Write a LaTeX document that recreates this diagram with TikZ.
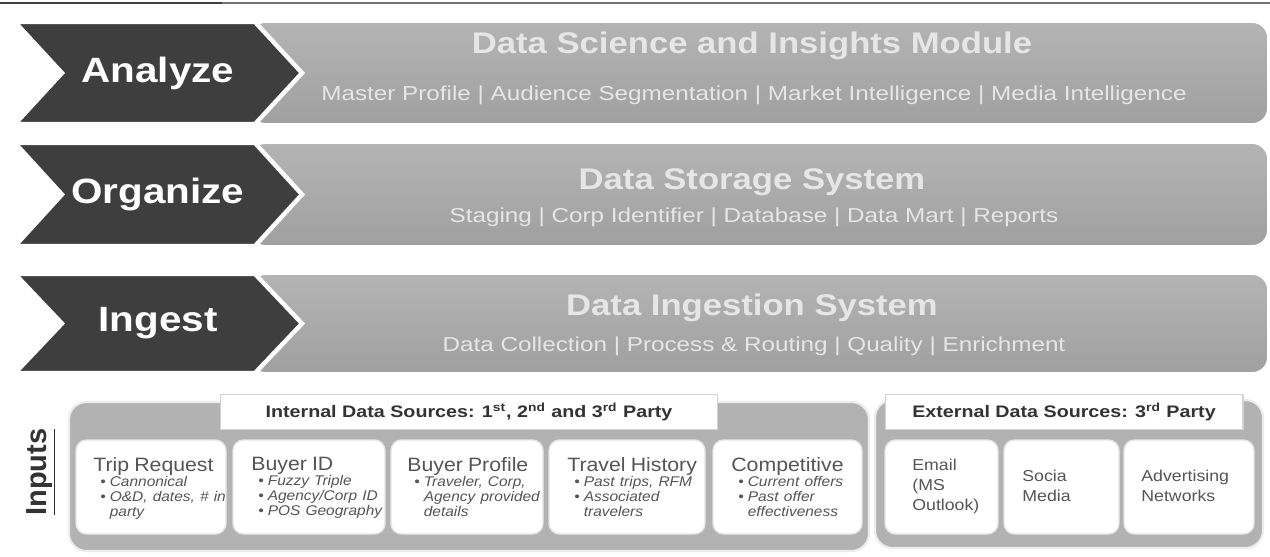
\documentclass[tikz,border=0pt]{standalone}
\usepackage{fontspec}
\setmainfont{Liberation Sans}
\definecolor{chevdark}{HTML}{3E3E3E}
\definecolor{bartop}{HTML}{B4B4B4}
\definecolor{barbot}{HTML}{A0A0A0}
\definecolor{grpfill}{HTML}{B2B2B2}
\definecolor{bartext}{HTML}{E6E6E6}
\definecolor{boxtext}{HTML}{555555}
% bullet line: the bullet, then the text as a hanging block
\newcommand{\bitem}[1]{\par\noindent\hspace*{3.6pt}\makebox[4.9pt][l]{•}%
  \parbox[t]{\dimexpr\linewidth-8.5pt\relax}{\raggedright\hyphenpenalty=10000 #1}}
\newcommand{\srctitlefont}{\upshape\fontsize{11}{12}\selectfont}
\begin{document}
\begin{tikzpicture}[x=0.02cm,y=-0.02cm,
  chevron/.style={fill=chevdark, draw=white, line width=2.5pt, line join=miter},
  bar/.style={top color=bartop, bottom color=barbot, draw=white, line width=1pt, rounded corners=9pt},
  stagetext/.style={text=white, xscale=1.15, font=\bfseries\fontsize{20}{24}\selectfont},
  bartitle/.style={text=bartext, xscale=1.16, font=\bfseries\fontsize{17}{19}\selectfont},
  barsub/.style={text=bartext, xscale=1.2, font=\fontsize{11.5}{13}\selectfont},
  group/.style={fill=grpfill, draw=white!85!gray, line width=1.2pt, rounded corners=10pt},
  grphead/.style={fill=white, draw=gray!35, line width=0.6pt, inner sep=0pt},
  headtext/.style={text=black!80, xscale=1.18, font=\bfseries\fontsize{9.5}{11}\selectfont},
  srcbox/.style={fill=white, draw=white!80!gray, line width=0.8pt, rounded corners=6pt},
  srctext/.style={anchor=north west, text=boxtext, align=left, inner sep=0pt, xscale=1.1,
    font=\fontsize{8}{8.6}\selectfont\itshape},
  exttext/.style={anchor=north west, text=boxtext, align=left, inner sep=0pt, xscale=1.12,
    font=\fontsize{9}{11.3}\selectfont}
]
\useasboundingbox (0,0) rectangle (1270,556);
\fill[white] (0,0) rectangle (1270,556);

% top rule
\draw[black!75, line width=1.6pt] (0,3) -- (222,3);
\draw[black!55, line width=1pt] (222,3) -- (1270,3);

% ---- three stages ----
\foreach \yt/\yb/\ytl/\ysb/\nm/\lbl/\ttl/\sub in {
  22/124/46/95/an/Analyze/Data Science and Insights Module/{Master Profile | Audience Segmentation | Market Intelligence | Media Intelligence},
  143/246/182/217/or/Organize/Data Storage System/{Staging | Corp Identifier | Database | Data Mart | Reports},
  274/373/308/346/in/Ingest/Data Ingestion System/{Data Collection | Process \& Routing | Quality | Enrichment}}{
  \pgfmathsetmacro{\ym}{(\yt+\yb)/2}
  \path[bar] (250,\yt) rectangle (1268,\yb);
  \path[chevron] (15,\yt) -- (255,\yt) -- (302,\ym) -- (255,\yb) -- (15,\yb) -- (62,\ym) -- cycle;
  \node[stagetext] (\nm-stage) at (158,\ym) {\lbl};
  \node[bartitle] (\nm-title) at (752,\ytl) {\ttl};
  \node[barsub] (\nm-sub) at (754,\ysb) {\sub};
}

% ---- inputs ----
\node[rotate=90, font=\bfseries\fontsize{16.5}{18}\selectfont, text=black!80] (inputs)
  at (41,472) {\underline{Inputs}};

% internal sources
\path[group] (69,402) rectangle (869,551);
\node[grphead, minimum width=9.96cm, minimum height=0.7cm] (inthead) at (469,412) {};
\node[headtext] (intlabel) at (inthead.center)
  {Internal Data Sources: 1\textsuperscript{st}, 2\textsuperscript{nd} and 3\textsuperscript{rd} Party};

\path[srcbox] (76,440) rectangle (226,534);
\path[srcbox] (233,440) rectangle (385,534);
\path[srcbox] (391,440) rectangle (543,534);
\path[srcbox] (549,440) rectangle (705,534);
\path[srcbox] (713,440) rectangle (862,534);

\node[srctext, text width=2.45cm] (trip) at (93,457)
  {{\srctitlefont Trip Request}\bitem{Cannonical}\bitem{O\&D, dates, \# in party}};
\node[srctext, text width=2.4cm] (buyid) at (251,457)
  {{\srctitlefont Buyer ID}\bitem{Fuzzy Triple}\bitem{Agency/Corp ID}\bitem{POS Geography}};
\node[srctext, text width=2.45cm] (buyprof) at (407,457)
  {{\srctitlefont Buyer Profile}\bitem{Traveler, Corp,\newline Agency provided details}};
\node[srctext, text width=2.4cm] (travel) at (567,457)
  {{\srctitlefont Travel History}\bitem{Past trips, RFM}\bitem{Associated travelers}};
\node[srctext, text width=2.35cm] (comp) at (731,457)
  {{\srctitlefont Competitive}\bitem{Current offers}\bitem{Past offer effectiveness}};

% external sources
\path[group] (875,400) rectangle (1263,548);
\node[grphead, minimum width=7.16cm, minimum height=0.7cm] (exthead) at (1064,412) {};
\node[headtext] (extlabel) at (exthead.center) {External Data Sources: 3\textsuperscript{rd} Party};

\path[srcbox] (885,440) rectangle (998,534);
\path[srcbox] (1004,440) rectangle (1119,534);
\path[srcbox] (1124,440) rectangle (1254,534);

\node[exttext, text width=1.7cm] (email) at (912,459) {Email\\(MS\\Outlook)};
\node[exttext, text width=1.7cm] (social) at (1022,470) {Socia\\Media};
\node[exttext, text width=2.1cm] (adv) at (1141,470) {Advertising\\Networks};
\end{tikzpicture}
\end{document}
